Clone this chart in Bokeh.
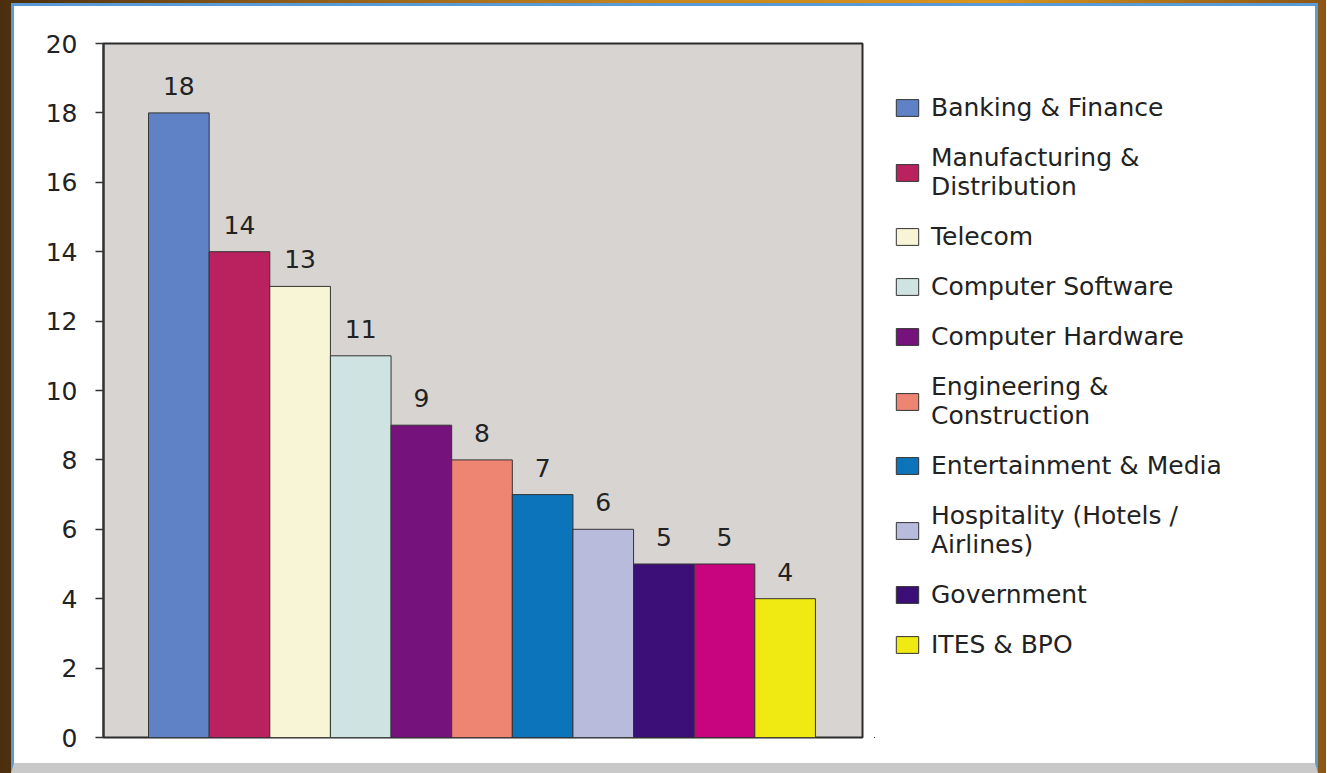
from bokeh.plotting import figure
from bokeh.models import ColumnDataSource, Range1d, FixedTicker, Legend, LegendItem
from bokeh.layouts import row
from bokeh.embed import file_html
from bokeh.resources import INLINE
from bokeh.core.properties import value

# ---- data ----
categories = [
    "Banking & Finance",
    "Manufacturing &\nDistribution",
    "Telecom",
    "Computer Software",
    "Computer Hardware",
    "Engineering &\nConstruction",
    "Entertainment & Media",
    "Hospitality (Hotels /\nAirlines)",
    "Government",
    "",  # unlabeled magenta bar (no legend entry in the original)
    "ITES & BPO",
]
values = [18, 14, 13, 11, 9, 8, 7, 6, 5, 5, 4]
colors = [
    "#5f82c6", "#b9225f", "#f8f4d6", "#cfe4e2", "#76127b", "#ee8573",
    "#0b74bb", "#b9bbdd", "#3b0e78", "#c8057e", "#f0ea12",
]
y_ticks = [0, 2, 4, 6, 8, 10, 12, 14, 16, 18, 20]

FONT = "DejaVu Sans"

positions = list(range(len(values)))
src = ColumnDataSource(dict(
    x=positions, top=values, color=colors, label=[str(v) for v in values]
))

# ---- main chart ----
p = figure(
    width=860, height=757,
    x_range=Range1d(-1.243, 11.276), y_range=Range1d(0, 20),
    output_backend="svg", toolbar_location=None,
    min_border_left=89, min_border_right=12,
    min_border_top=37, min_border_bottom=26,
    background_fill_color="#d7d4d1", border_fill_color="white",
    outline_line_color="#2b2b2b", outline_line_width=2,
)
p.xaxis.visible = False
p.grid.visible = False

ya = p.yaxis[0]
ya.ticker = FixedTicker(ticks=y_ticks)
ya.minor_tick_line_color = None
ya.major_tick_in = 0
ya.major_tick_out = 8
ya.major_tick_line_color = "#333333"
ya.major_tick_line_width = 1.5
ya.axis_line_color = "#333333"
ya.axis_line_width = 2
ya.major_label_standoff = 18
ya.major_label_text_font = FONT
ya.major_label_text_font_size = "25px"
ya.major_label_text_color = "#222222"

p.vbar(x="x", top="top", bottom=0, width=1.0, fill_color="color",
       line_color="#333333", line_width=1, source=src)

p.text(x="x", y="top", text="label", source=src,
       text_align="center", text_baseline="alphabetic", y_offset=-27,
       text_font=value(FONT), text_font_size="25px", text_color="#222222")

# ---- legend panel (separate canvas, same data/colours; bars kept out of view) ----
p2 = figure(
    width=441, height=757,
    x_range=Range1d(1000, 1001), y_range=Range1d(1000, 1001),
    output_backend="svg", toolbar_location=None,
    min_border=0, background_fill_color="white", border_fill_color="white",
    outline_line_color=None,
)
p2.axis.visible = False
p2.grid.visible = False
r2 = p2.vbar(x="x", top="top", bottom=0, width=1.0, fill_color="color",
             line_color="#333333", line_width=1, source=src)

items = [LegendItem(label=categories[i], renderers=[r2], index=i)
         for i in range(len(categories)) if categories[i]]
legend = Legend(
    items=items, location=(19, 78),
    glyph_width=28, glyph_height=21, label_standoff=10, spacing=21,
    padding=0, margin=0, border_line_alpha=0, background_fill_alpha=0,
    label_text_font=FONT, label_text_font_size="25px",
    label_text_line_height=1.1,
    label_text_color="#222222",
)
p2.add_layout(legend)

inner = row(p, p2, styles={
    "border-top": "3px solid #5b9bd5",
    "border-left": "3px solid #5b9bd5",
    "border-right": "3px solid #5b9bd5",
    "border-bottom": "10px solid #c9c9c9",
    "background": "white",
})
outer = row(inner, styles={
    "background": "linear-gradient(90deg, #4a2e0e 0%, #8a5a1a 20%, #c8861e 50%, #d9951f 75%, #8a5516 100%)",
    "padding": "3px 8px 0px 11px",
})

open("out.html", "w").write(file_html(outer, INLINE))
